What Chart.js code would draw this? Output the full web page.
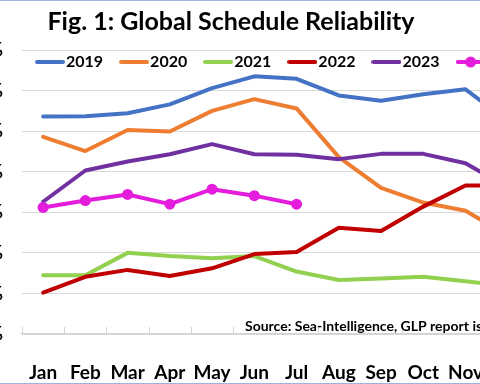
<!DOCTYPE html>
<html>
<head>
<meta charset="utf-8">
<script src="https://cdn.jsdelivr.net/npm/chart.js@4.4.1/dist/chart.umd.min.js"></script>
<style>
  html, body { margin: 0; padding: 0; background: #fff; }
  .frame { position: relative; width: 480px; height: 384px; overflow: hidden; }
  .frame canvas { position: absolute; left: -72px; top: 0; }
  .edge { position: absolute; left: 0; top: 0; width: 480px; height: 384px; box-sizing: border-box;
          border-top: 1px solid #9bb5e0; border-bottom: 1px solid #9bb5e0; pointer-events: none; }
</style>
</head>
<body>
<div class="frame">
  <canvas id="myChart" width="616" height="384"></canvas>
  <div class="edge"></div>
</div>
<script>
/* DATA */

var months = ['Jan', 'Feb', 'Mar', 'Apr', 'May', 'Jun', 'Jul', 'Aug', 'Sep', 'Oct', 'Nov', 'Dec'];
var years = ['2019', '2020', '2021', '2022', '2023', '2024'];
var y2019 = [73.6, 73.7, 74.4, 76.6, 80.6, 83.5, 82.9, 78.8, 77.5, 79.1, 80.3, 72.5];
var y2020 = [68.6, 65.1, 70.3, 69.9, 75.0, 77.9, 75.6, 63.6, 56.0, 52.4, 50.4, 44.2];
var y2021 = [34.5, 34.5, 40.0, 39.2, 38.7, 39.2, 35.4, 33.3, 33.7, 34.1, 33.0, 31.8];
var y2022 = [30.2, 34.1, 35.8, 34.3, 36.2, 39.7, 40.2, 46.2, 45.4, 51.4, 56.6, 56.6];
var y2023 = [52.6, 60.3, 62.5, 64.3, 66.8, 64.3, 64.2, 63.1, 64.4, 64.4, 62.1, 56.1];
var y2024 = [51.2, 52.9, 54.4, 52.0, 55.7, 54.1, 52.0];
var yTickValues = [20, 30, 40, 50, 60, 70, 80, 90];
var colors = ['#4472C4', '#ED7D31', '#92D050', '#C00000', '#7030A0', '#E41CDC'];
var sourceText = 'Source: Sea-Intelligence, GLP report issue 156';

var FONT = 'Lato, "Open Sans", sans-serif';

/* LEGEND ICONS: short line, with a dot for the marker series */

function legendIcon(color, dot) {
  var c = document.createElement('canvas');
  c.width = 30;
  c.height = 12;
  var g = c.getContext('2d');
  g.strokeStyle = color;
  g.lineWidth = 4;
  g.lineCap = 'round';
  g.beginPath();
  g.moveTo(2, 6);
  g.lineTo(28, 6);
  g.stroke();
  if (dot) {
    g.fillStyle = color;
    g.beginPath();
    g.arc(15, 6, 5.5, 0, Math.PI * 2);
    g.fill();
  }
  return c;
}

/* PLUGINS */

// legend sits inside the plot area, like the Excel original
var legendInside = {
  id: 'legendInside',
  beforeInit: function(chart) {
    var fit = chart.legend.fit;
    chart.legend.fit = function() {
      fit.call(this);
      this.height = 0;
    };
  },
  afterLayout: function(chart) {
    var lg = chart.legend;
    lg.top = chart.chartArea.top - 19;
    lg.bottom = lg.top + 60;
    lg.left = chart.chartArea.left - 3;
    lg.right = lg.left + 1000;
  }
};

// small inside tick marks between categories + source note
var extras = {
  id: 'extras',
  beforeDatasetsDraw: function(chart) {
    var ctx = chart.ctx;
    var x = chart.scales.x;
    var area = chart.chartArea;
    var half = (x.getPixelForValue(1) - x.getPixelForValue(0)) / 2;
    ctx.save();
    ctx.strokeStyle = '#d4d4d4';
    ctx.lineWidth = 1;
    for (var i = 0; i <= months.length; i++) {
      var px = Math.round(x.getPixelForValue(i) - half) + 0.5;
      ctx.beginPath();
      ctx.moveTo(px, area.bottom);
      ctx.lineTo(px, area.bottom - 7);
      ctx.stroke();
    }
    ctx.fillStyle = '#000';
    ctx.font = 'bold 14px ' + FONT;
    ctx.textBaseline = 'middle';
    ctx.textAlign = 'left';
    ctx.fillText(sourceText, area.left + 223, area.bottom - 8);
    ctx.restore();
  }
};

/* CHART */

var series = [y2019, y2020, y2021, y2022, y2023, y2024];

var datasets = series.map(function(values, i) {
  var marker = i === 5;
  return {
    label: years[i],
    data: values,
    borderColor: colors[i],
    backgroundColor: colors[i],
    borderWidth: 4,
    borderJoinStyle: 'round',
    borderCapStyle: 'round',
    pointRadius: marker ? 5.5 : 0,
    pointBorderWidth: 0,
    pointBackgroundColor: colors[i],
    tension: 0,
    order: series.length - i
  };
});

var ctx = document.getElementById('myChart').getContext('2d');

var chart = new Chart(ctx, {
  type: 'line',
  data: {
    labels: months,
    datasets: datasets
  },
  options: {
    responsive: false,
    animation: false,
    layout: { padding: { left: 0, right: 10, top: 0, bottom: 0 } },
    plugins: {
      tooltip: { enabled: false },
      title: {
        display: true,
        text: 'Fig. 1: Global Schedule Reliability',
        color: '#000',
        font: { family: FONT, size: 25, weight: 'bold', lineHeight: 1.2 },
        padding: { top: 7, bottom: 13 }
      },
      legend: {
        display: true,
        position: 'top',
        align: 'start',
        labels: {
          color: '#000',
          font: { family: FONT, size: 16, weight: 'bold' },
          usePointStyle: true,
          pointStyleWidth: 16,
          padding: 23,
          sort: function(a, b) { return a.datasetIndex - b.datasetIndex; },
          generateLabels: function(chart) {
            var items = Chart.defaults.plugins.legend.labels.generateLabels(chart);
            items.forEach(function(it) {
              it.pointStyle = legendIcon(colors[it.datasetIndex], it.datasetIndex === 5);
            });
            return items;
          }
        }
      }
    },
    scales: {
      x: {
        offset: true,
        grid: { display: false },
        border: { display: true, color: '#d4d4d4', width: 1.5 },
        ticks: {
          color: '#000',
          padding: 19,
          maxRotation: 0,
          autoSkip: false,
          font: { family: FONT, size: 19, weight: 'bold' }
        },
        afterFit: function(scale) { scale.height = 50; }
      },
      y: {
        min: yTickValues[0],
        max: yTickValues[yTickValues.length - 1],
        grid: { color: '#d9d9d9', lineWidth: 1, drawTicks: false },
        border: { display: false },
        afterBuildTicks: function(scale) {
          scale.ticks = yTickValues.map(function(v) { return { value: v }; });
        },
        ticks: {
          color: '#000',
          padding: 19,
          font: { family: FONT, size: 19, weight: 'bold' },
          callback: function(v) { return v + '%'; }
        },
        afterFit: function(scale) { scale.width = 94; }
      }
    }
  },
  plugins: [legendInside, extras]
});
</script>
</body>
</html>
